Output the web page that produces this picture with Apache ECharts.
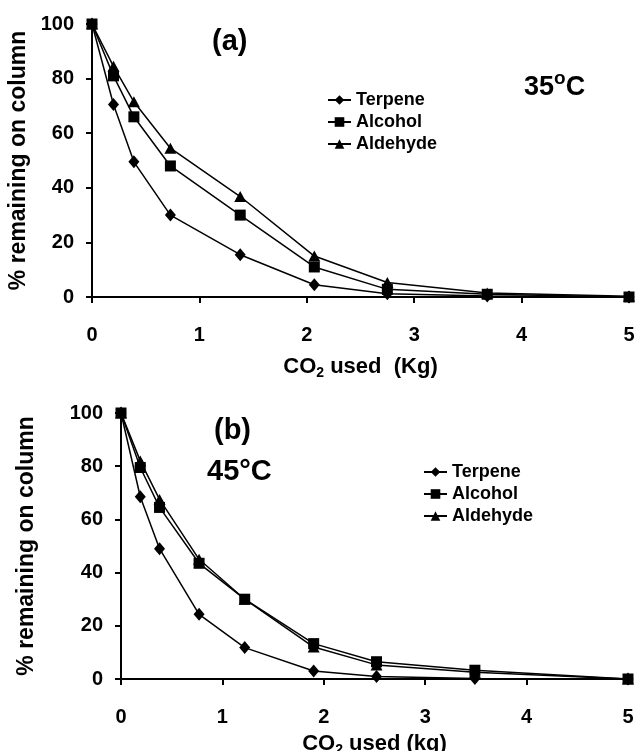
<!DOCTYPE html>
<html>
<head>
    <meta charset="UTF-8">
    <title>CO2 extraction</title>
    <script src="https://cdn.jsdelivr.net/npm/echarts@6/dist/echarts.min.js"></script>
    <style>
        html, body { margin: 0; padding: 0; background: #fff; }
        #chart { width: 638px; height: 751px; }
    </style>
</head>
<body>
<div id="chart"></div>
<script>
    // panel (a) 35C
    var co2A = [0, 0.2, 0.39, 0.73, 1.38, 2.07, 2.75, 3.68, 5];
    var terpA = [100, 70.5, 49.5, 30, 15.5, 4.5, 1.2, 0.4, 0];
    var alcA = [100, 81, 66, 48, 30, 11, 2.8, 1, 0];
    var aldA = [100, 84.5, 71.5, 54.5, 36.8, 15, 5.3, 1.5, 0.3];
    // panel (b) 45C
    var co2B = [0, 0.19, 0.38, 0.77, 1.22, 1.9, 2.52, 3.49, 5];
    var terpB = [100, 68.5, 49, 24.3, 11.8, 3, 0.9, 0.2, 0];
    var alcB = [100, 79.5, 64.5, 43.5, 30, 13.3, 6.5, 3.3, 0];
    var aldB = [100, 82, 67.5, 45, 30, 12, 5.3, 2.5, 0];

    var names = ["Terpene", "Alcohol", "Aldehyde"];
    var symbols = ["diamond", "rect", "triangle"];
    var symSizes = [[11, 13], [11, 11], [12, 11]];

    var font = "'Liberation Sans', Arial, sans-serif";

    function pairs(xs, ys) {
        var out = [];
        for (var i = 0; i < xs.length; i++) out.push([xs[i], ys[i]]);
        return out;
    }

    function mkSeries(name, idx, xIdx, yIdx, xs, ys) {
        return {
            name: name,
            type: "line",
            xAxisIndex: xIdx,
            yAxisIndex: yIdx,
            data: pairs(xs, ys),
            symbol: symbols[idx],
            symbolSize: symSizes[idx],
            clip: false,
            lineStyle: { color: "#000", width: 1.5 },
            itemStyle: { color: "#000" },
            z: 5 - idx
        };
    }

    var axisLine = { show: true, lineStyle: { color: "#000", width: 2 } };
    var labelStyle = { color: "#000", fontSize: 20, fontWeight: "bold", fontFamily: font };
    var coRich = {
        a: { fontSize: 22, fontWeight: "bold", fontFamily: font, color: "#000", lineHeight: 26 },
        s: { fontSize: 14, fontWeight: "bold", fontFamily: font, color: "#000", lineHeight: 26, verticalAlign: "bottom" }
    };

    function xAx(grid, title, gap) {
        return [{
            type: "value", gridIndex: grid, min: 0, max: 5, interval: 1,
            axisLine: axisLine,
            axisTick: { show: true, length: 6, lineStyle: { color: "#000", width: 2 } },
            axisLabel: Object.assign({ margin: 28 }, labelStyle),
            splitLine: { show: false },
            name: title, nameLocation: "middle", nameGap: gap,
            nameTextStyle: { rich: coRich }
        }, {
            type: "value", gridIndex: grid, min: 0, max: 5, interval: 1,
            axisLine: { show: false },
            axisTick: { show: true, inside: true, length: 6, lineStyle: { color: "#000", width: 2 } },
            axisLabel: { show: false },
            splitLine: { show: false }
        }];
    }

    function yAx(grid, gap) {
        return [{
            type: "value", gridIndex: grid, min: 0, max: 100, interval: 20,
            axisLine: axisLine,
            axisTick: { show: true, length: 6, lineStyle: { color: "#000", width: 2 } },
            axisLabel: Object.assign({ margin: 18 }, labelStyle),
            splitLine: { show: false },
            name: "% remaining on column", nameLocation: "middle", nameRotate: 90, nameGap: gap,
            nameTextStyle: { color: "#000", fontSize: 23, fontWeight: "bold", fontFamily: font }
        }, {
            type: "value", gridIndex: grid, min: 0, max: 100, interval: 20,
            axisLine: { show: false },
            axisTick: { show: true, inside: true, length: 6, lineStyle: { color: "#000", width: 2 } },
            axisLabel: { show: false },
            splitLine: { show: false }
        }];
    }

    var legendText = { color: "#000", fontSize: 18, fontWeight: "bold", fontFamily: font };
    var bigText = { fontSize: 29, fontWeight: "bold", fontFamily: font, fill: "#000" };

    // second panel uses names with a trailing space so it gets its own legend
    var namesB = names.map(function (n) { return n + " "; });

    var option = {
        animation: false,
        backgroundColor: "#fff",
        grid: [
            { left: 92, right: 9, top: 24, height: 273, outerBoundsMode: "none" },
            { left: 121, right: 10, top: 413, height: 266, outerBoundsMode: "none" }
        ],
        xAxis: xAx(0, "{a|CO}{s|2}{a| used  (Kg)}", 57).concat(xAx(1, "{a|CO}{s|2}{a| used (kg)}", 52)),
        yAxis: yAx(0, 52).concat(yAx(1, 83)),
        legend: [{
            data: names,
            orient: "vertical", left: 322, top: 86,
            itemWidth: 23, itemHeight: 12, itemGap: 4,
            textStyle: legendText,
            selectedMode: false
        }, {
            data: namesB,
            formatter: function (n) { return n.trim(); },
            orient: "vertical", left: 418, top: 458,
            itemWidth: 23, itemHeight: 12, itemGap: 4,
            textStyle: legendText,
            selectedMode: false
        }],
        series: [
            mkSeries(names[0], 0, 0, 0, co2A, terpA),
            mkSeries(names[1], 1, 0, 0, co2A, alcA),
            mkSeries(names[2], 2, 0, 0, co2A, aldA),
            mkSeries(namesB[0], 0, 2, 2, co2B, terpB),
            mkSeries(namesB[1], 1, 2, 2, co2B, alcB),
            mkSeries(namesB[2], 2, 2, 2, co2B, aldB)
        ],
        graphic: [
            { type: "text", left: 212, top: 27, style: Object.assign({ text: "(a)" }, bigText) },
            { type: "text", left: 524, top: 69, style: {
                text: "{n|35}{o|o}{n|C}",
                rich: {
                    n: { fontSize: 27, fontWeight: "bold", fontFamily: font, fill: "#000", lineHeight: 32, verticalAlign: "bottom" },
                    o: { fontSize: 19, fontWeight: "bold", fontFamily: font, fill: "#000", lineHeight: 32, verticalAlign: "top" }
                }
            } },
            { type: "text", left: 214, top: 416, style: Object.assign({ text: "(b)" }, bigText) },
            { type: "text", left: 207, top: 457, style: Object.assign({ text: "45°C" }, bigText) }
        ]
    };

    var chart = echarts.init(document.getElementById("chart"));
    chart.setOption(option);
</script>
</body>
</html>
